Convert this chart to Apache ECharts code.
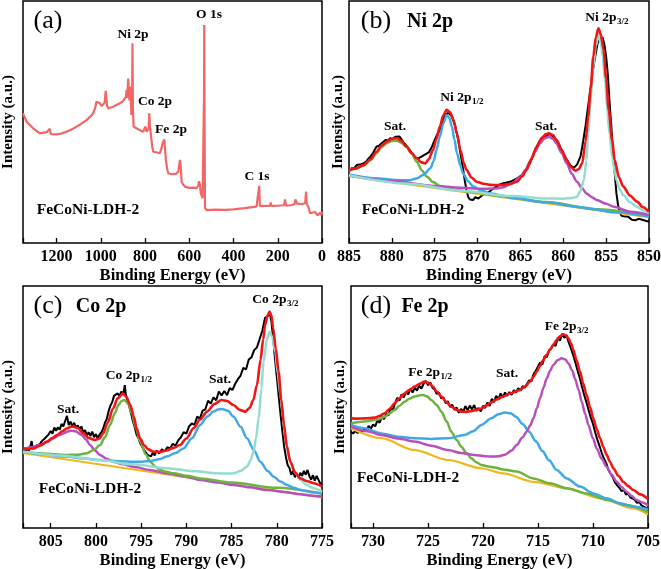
<!DOCTYPE html>
<html><head><meta charset="utf-8">
<script src="https://cdn.jsdelivr.net/npm/echarts@6/dist/echarts.min.js"></script>
<style>html,body{margin:0;padding:0;background:#fff}#c{width:661px;height:569px}</style>
</head><body><div id="c"></div>
<script>
// ---------- (a) survey ----------
const survey = [[1352,53.6],[1336,50.1],[1306,47.4],[1276,45.3],[1245,45.8],[1231,47.2],[1226,45.0],[1200,44.9],[1180,45.2],[1155,46.0],[1130,47.0],[1110,48.1],[1085,49.5],[1065,50.8],[1045,52.4],[1035,53.6],[1025,56.0],[1020,58.4],[1012,57.6],[1005,57.8],[997,56.6],[988,56.5],[983,58.0],[978,62.9],[972,57.0],[967,55.6],[955,56.0],[944,56.3],[930,57.0],[914,57.7],[900,58.6],[891,59.1],[886,60.5],[884,63.2],[881,60.0],[878,59.5],[876,68.0],[873,60.5],[870,59.0],[867,64.6],[865,60.0],[862,52.9],[859,55.0],[857,82.5],[855,56.0],[852,48.1],[839,47.4],[820,46.5],[809,46.0],[803,46.5],[798,48.1],[794,46.0],[790,45.3],[784,47.0],[781,53.6],[778,48.0],[774,45.0],[768,40.0],[763,37.7],[750,37.5],[733,37.1],[726,39.0],[721,41.2],[713,42.8],[709,38.0],[706,34.3],[700,30.5],[695,28.8],[680,28.4],[672,28.1],[660,28.6],[650,29.5],[645,32.5],[642,34.3],[638,31.0],[635,25.3],[628,24.2],[620,23.3],[600,22.8],[580,22.9],[567,22.6],[559,24.0],[556,25.5],[552,24.0],[548,20.5],[540,18.5],[536,17.8],[533.5,60.0],[532.5,90.1],[531,50.0],[529,14.5],[522,13.6],[480,13.8],[440,13.7],[400,13.9],[350,14.4],[296,15.0],[287,15.1],[284,23.6],[281,15.3],[260,15.4],[235,15.3],[232,16.7],[228,15.3],[200,15.4],[172,15.6],[167,18.0],[163,15.4],[140,15.6],[125,16.0],[120,18.0],[114,16.4],[90,16.0],[76,16.5],[72,21.2],[69,16.0],[62,15.0],[54,12.3],[45,13.0],[32,12.8],[24,12.9],[20,11.5],[16,10.9],[8,12.5],[4,11.5],[0,12.9]];

// ---------- (b) Ni 2p ----------
const niRaw = [[884.8,30.9],[884.6,31.4],[884.4,30.8],[884.1,32.2],[883.9,31.6],[883.6,32.6],[883.3,32.9],[883.0,33.6],[882.8,34.6],[882.5,35.7],[882.2,37.2],[882.0,38.5],[881.8,39.8],[881.5,40.2],[881.2,41.2],[881.0,41.9],[880.7,42.6],[880.4,42.4],[880.2,43.3],[879.9,43.0],[879.6,43.9],[879.4,43.6],[879.1,44.0],[878.9,43.2],[878.7,41.9],[878.5,41.0],[878.3,40.2],[878.1,39.4],[877.9,38.4],[877.7,37.6],[877.5,36.2],[877.3,35.0],[877.1,34.3],[876.9,35.0],[876.7,34.8],[876.5,35.8],[876.3,35.7],[876.1,36.6],[875.9,36.4],[875.7,37.4],[875.5,38.6],[875.3,40.0],[875.1,41.8],[874.8,44.2],[874.6,45.6],[874.4,46.7],[874.2,49.0],[874.0,51.0],[873.8,52.9],[873.6,53.4],[873.4,53.8],[873.2,53.4],[873.0,52.4],[872.8,50.2],[872.6,48.1],[872.4,45.0],[872.2,41.5],[872.0,37.1],[871.8,33.0],[871.6,28.5],[871.5,26.0],[871.3,22.0],[871.1,19.1],[870.9,18.0],[870.7,18.8],[870.5,17.8],[870.3,18.9],[870.1,19.5],[869.9,18.4],[869.7,18.9],[869.5,19.6],[869.3,19.1],[869.1,20.4],[868.9,20.2],[868.7,21.0],[868.5,21.2],[868.3,22.2],[868.1,22.5],[867.8,23.3],[867.6,23.6],[867.4,24.2],[867.2,24.0],[867.0,24.7],[866.8,24.5],[866.6,25.0],[866.4,24.8],[866.2,25.3],[866.0,25.6],[865.8,26.0],[865.6,26.2],[865.4,26.7],[865.2,27.0],[865.0,27.6],[864.8,28.0],[864.6,28.8],[864.4,29.8],[864.2,31.4],[863.9,32.9],[863.7,34.6],[863.5,36.5],[863.3,38.4],[863.1,39.8],[862.9,41.2],[862.7,42.5],[862.5,43.2],[862.3,43.9],[862.1,44.6],[861.9,44.5],[861.7,45.3],[861.5,45.0],[861.3,44.4],[861.1,43.6],[860.9,42.9],[860.7,42.0],[860.5,40.8],[860.3,39.2],[860.0,37.1],[859.8,35.8],[859.6,34.5],[859.4,33.4],[859.2,32.2],[859.0,31.4],[858.8,31.0],[858.6,31.5],[858.4,32.4],[858.2,34.0],[858.0,35.7],[857.8,39.5],[857.6,43.9],[857.4,48.5],[857.2,54.0],[857.0,59.1],[856.8,64.5],[856.6,70.0],[856.4,74.5],[856.2,78.5],[856.0,82.5],[855.8,84.6],[855.6,85.3],[855.4,84.8],[855.2,82.0],[855.0,77.0],[854.8,69.5],[854.6,58.0],[854.4,48.5],[854.2,38.0],[854.0,29.0],[853.8,20.5],[853.6,15.5],[853.4,12.5],[853.2,11.2],[853.0,10.4],[852.8,10.9],[852.6,10.3],[852.4,10.8],[852.2,10.0],[852.0,9.6],[851.8,10.2],[851.6,9.4],[851.4,9.5],[851.2,10.0],[851.0,9.2],[850.8,9.6],[850.6,8.8],[850.4,9.2],[850.2,8.6],[850.0,8.8]];
const niFit = [[885.0,30.0],[884.3,30.8],[883.3,32.2],[882.5,34.6],[881.8,37.7],[881.2,40.3],[880.6,41.9],[880.0,43.0],[879.4,43.3],[878.9,42.2],[878.3,39.8],[877.7,37.2],[877.1,35.0],[876.6,33.4],[876.1,32.9],[875.7,34.6],[875.2,38.4],[874.8,43.0],[874.4,48.1],[874.0,52.8],[873.6,55.0],[873.2,54.0],[872.8,50.8],[872.4,45.0],[872.0,38.4],[871.6,33.0],[871.3,30.2],[870.7,27.0],[870.1,25.3],[869.3,24.5],[868.5,24.0],[867.8,23.9],[867.0,24.0],[866.2,24.5],[865.4,25.3],[864.8,27.5],[864.3,30.2],[863.7,34.8],[863.1,39.8],[862.5,43.5],[862.0,45.0],[861.7,45.3],[861.2,44.6],[860.8,42.6],[860.2,38.5],[859.6,34.3],[859.1,31.3],[858.6,29.9],[858.2,30.5],[857.8,32.9],[857.4,42.0],[857.1,52.2],[856.8,64.0],[856.5,77.0],[856.2,85.0],[855.9,88.7],[855.6,86.0],[855.3,79.8],[855.0,68.0],[854.7,55.0],[854.3,42.5],[854.0,34.3],[853.5,27.0],[853.0,23.3],[852.2,19.5],[851.4,17.1],[850.7,14.8],[850.0,12.9]];
const niBase = [[885,27.6],[850,10.6]];
const niSat1 = [[885,29.8],[884.1,30.8],[883.3,32.0],[882.5,34.2],[881.8,37.1],[881.2,39.6],[880.6,41.2],[880.0,42.2],[879.4,42.3],[878.9,41.4],[878.3,39.8],[877.7,37.0],[877.1,33.6],[876.5,30.0],[875.9,27.4],[875.2,25.2],[874.4,23.6],[873.4,22.5],[872.4,21.8],[870.5,21.0],[867,19.3],[862,16.9],[856,13.9],[850,11.2]];
const niP12 = [[885,28.3],[882,26.8],[879.4,26.0],[878.0,25.9],[877.1,26.7],[876.3,28.2],[875.5,30.9],[875.1,34.0],[874.8,38.4],[874.4,44.0],[874.0,49.4],[873.6,52.9],[873.3,51.8],[873.0,48.1],[872.7,42.8],[872.4,37.1],[872.0,32.0],[871.7,28.8],[871.1,25.5],[870.5,23.3],[869.5,21.6],[868.5,20.5],[865.8,18.5],[862,16.8],[858,14.8],[854,12.7],[850,10.9]];
const niSat2 = [[885,28.0],[880,25.6],[875,23.6],[872,22.8],[869.7,22.4],[868.0,22.5],[867.0,23.0],[866.0,24.6],[865.0,27.4],[864.4,30.2],[863.9,33.6],[863.3,37.8],[862.7,41.2],[862.2,43.2],[861.7,43.9],[861.2,43.0],[860.8,41.2],[860.2,37.2],[859.6,32.9],[859.0,28.6],[858.4,25.3],[857.8,22.6],[857.3,20.5],[856.6,18.8],[856.1,17.8],[855.0,16.2],[854.1,15.0],[852.2,12.9],[850,11.6]];
const niP32 = [[885,28.0],[878,24.5],[872,21.6],[866,19.4],[862,18.4],[860,18.3],[859.0,18.6],[858.4,19.1],[858.0,21.5],[857.6,26.0],[857.3,34.0],[857.1,45.3],[856.8,60.0],[856.5,72.9],[856.2,81.5],[855.9,85.9],[855.6,82.5],[855.4,77.0],[855.1,66.0],[854.9,56.3],[854.6,45.0],[854.3,35.7],[854.0,29.5],[853.8,26.0],[853.4,22.0],[853.0,19.8],[852.2,16.8],[851.4,15.0],[850.7,13.5],[850,12.3]];

// ---------- (c) Co 2p ----------
const coRaw = [[808.0,32.9],[807.8,31.5],[807.6,33.0],[807.4,32.0],[807.2,34.5],[807.1,35.9],[807.0,33.0],[806.8,32.5],[806.6,34.0],[806.4,33.2],[806.2,34.6],[806.0,35.8],[805.8,35.0],[805.6,37.2],[805.4,36.4],[805.2,38.8],[805.0,40.1],[804.8,39.0],[804.6,41.5],[804.4,40.2],[804.2,41.6],[804.0,40.6],[803.8,43.0],[803.6,42.0],[803.4,44.2],[803.2,46.3],[803.0,42.5],[802.8,44.0],[802.6,42.0],[802.4,43.5],[802.2,41.5],[802.0,42.4],[801.8,40.6],[801.6,42.0],[801.4,39.5],[801.2,40.5],[801.0,38.2],[800.8,39.6],[800.6,38.0],[800.4,39.8],[800.2,37.5],[800.0,38.8],[799.8,37.0],[799.6,38.6],[799.4,39.5],[799.2,41.0],[799.0,43.5],[798.8,45.0],[798.6,48.2],[798.4,50.5],[798.2,52.0],[798.0,54.6],[797.8,53.8],[797.6,55.6],[797.4,54.5],[797.2,56.4],[797.0,55.0],[796.8,59.0],[796.7,55.5],[796.5,52.5],[796.3,50.0],[796.1,47.2],[795.9,44.0],[795.7,41.6],[795.5,38.5],[795.3,37.2],[795.1,35.0],[794.9,34.6],[794.7,32.4],[794.5,31.8],[794.3,30.2],[794.1,31.0],[793.9,29.6],[793.7,31.2],[793.5,30.0],[793.3,32.0],[793.0,30.8],[792.7,32.5],[792.4,31.6],[792.1,33.4],[791.8,32.8],[791.5,34.8],[791.2,34.0],[790.9,36.2],[790.6,37.5],[790.3,39.6],[790.0,39.0],[789.7,42.0],[789.4,43.2],[789.1,42.6],[788.8,46.0],[788.5,45.2],[788.2,48.5],[787.9,49.0],[787.6,52.6],[787.3,51.4],[787.0,54.0],[786.7,52.8],[786.4,56.4],[786.1,54.8],[785.8,56.6],[785.5,54.9],[785.2,57.8],[784.9,57.0],[784.6,59.6],[784.3,61.5],[784.0,63.0],[783.7,66.2],[783.4,65.5],[783.1,69.6],[782.8,70.5],[782.5,73.5],[782.2,74.6],[781.9,78.0],[781.6,81.5],[781.3,86.8],[781.0,87.5],[780.8,89.0],[780.6,85.5],[780.4,78.5],[780.2,70.0],[780.0,62.5],[779.8,55.0],[779.6,47.5],[779.4,40.5],[779.2,34.0],[779.0,29.5],[778.8,26.0],[778.6,24.8],[778.4,22.0],[778.2,23.6],[778.0,21.0],[777.8,22.5],[777.6,20.6],[777.4,22.8],[777.2,21.5],[777.0,23.6],[776.8,22.0],[776.6,24.0],[776.4,21.5],[776.2,20.0],[776.0,21.8],[775.8,19.6],[775.6,21.5],[775.4,20.0],[775.2,18.5],[775.0,18.0]];
const coFit = [[808.06,32.9],[807.5,32.6],[806.9,32.9],[806.2,34.0],[805.4,35.7],[804.8,37.2],[804.3,38.4],[803.7,40.0],[803.2,41.2],[802.8,41.8],[802.5,41.9],[802.0,41.3],[801.4,39.1],[800.8,37.2],[800.1,36.4],[799.6,37.0],[799.2,39.1],[798.7,43.5],[798.1,49.4],[797.6,53.6],[797.0,55.6],[796.6,54.0],[796.2,50.8],[795.8,46.0],[795.5,41.2],[795.1,37.0],[794.7,34.3],[794.2,32.5],[793.6,31.5],[792.9,31.5],[792.2,32.0],[791.5,33.0],[790.7,34.3],[790.0,37.0],[789.2,41.2],[788.5,44.8],[787.7,48.1],[786.9,51.2],[786.1,52.9],[785.5,52.5],[784.8,50.8],[784.1,48.8],[783.5,48.1],[783.0,49.6],[782.6,52.9],[782.2,59.0],[781.8,69.4],[781.5,78.0],[781.3,83.9],[781.0,88.0],[780.8,89.4],[780.6,88.0],[780.4,82.5],[780.1,74.0],[779.8,64.6],[779.5,53.0],[779.2,42.6],[778.9,34.0],[778.5,27.4],[778.0,23.0],[777.4,20.5],[776.6,19.3],[775.9,18.5],[775.0,17.1]];
const coBase = [[808.06,31.0],[775,12.6]];
const coSat1 = [[808.06,32.6],[807.0,33.5],[806.18,34.3],[805.4,35.6],[804.70,37.1],[804.1,38.3],[803.60,39.1],[803.1,39.9],[802.68,40.2],[802.2,39.9],[801.57,38.4],[801.1,36.6],[800.65,34.3],[800.1,32.0],[799.54,30.2],[798.8,28.6],[798.06,27.4],[797.0,26.3],[795.85,25.3],[794,24.0],[792.16,22.6],[790,21.2],[788.47,19.8],[786.5,18.8],[784.78,17.8],[783,16.8],[781.09,15.7],[779,14.8],[777.40,13.9],[776,13.3],[775,12.9]];
const coP12 = [[808.06,31.5],[806,30.8],[803.23,30.2],[802,30.3],[801.01,30.9],[800.2,32.3],[799.54,34.3],[799.0,37.5],[798.43,42.6],[797.9,47.5],[797.51,50.8],[797.2,52.4],[796.85,52.9],[796.4,51.2],[796.03,47.4],[795.6,41.5],[795.11,35.7],[794.5,30.5],[794.00,27.4],[793.4,25.3],[792.90,24.0],[792.2,23.2],[791.42,22.6],[790,21.6],[788.47,20.5],[785,18.8],[780,16.6],[775,14.2]];
const coSat2 = [[808.06,31.5],[806,30.5],[803.23,29.5],[801.5,28.8],[799.54,28.1],[797.5,27.6],[795.85,27.4],[794.9,27.4],[794.00,27.7],[793.0,28.4],[792.16,29.5],[791.2,31.0],[790.31,32.9],[789.4,37.0],[788.47,42.6],[787.7,46.0],[786.99,48.1],[786.5,49.0],[786.07,49.2],[785.4,48.4],[784.78,46.0],[784.0,41.8],[783.30,37.1],[782.5,32.0],[781.83,27.4],[781.0,23.6],[780.35,21.2],[779.6,19.2],[778.87,17.8],[778.1,16.6],[777.40,15.7],[776.2,14.8],[775,14.3]];
const coP32 = [[808.06,31.5],[804,30.0],[799.54,28.1],[796,26.3],[792.16,24.7],[789,23.4],[786.62,22.6],[785.5,22.5],[784.78,22.6],[784.0,23.6],[783.30,25.3],[782.9,28.0],[782.56,31.5],[782.3,37.0],[782.01,45.3],[781.7,57.5],[781.46,68.7],[781.1,77.8],[780.79,81.1],[780.5,79.0],[780.17,72.9],[779.9,64.0],[779.61,55.0],[779.3,45.5],[779.06,37.1],[778.7,30.0],[778.32,26.0],[777.9,22.5],[777.40,19.8],[776.7,17.8],[775.92,16.4],[775,15.0]];

// ---------- (d) Fe 2p ----------
const feRaw = [[732.0,39.8],[731.8,39.0],[731.6,40.2],[731.4,39.2],[731.2,40.5],[731.0,39.6],[730.8,41.0],[730.6,40.0],[730.4,42.2],[730.2,41.0],[730.0,42.8],[729.8,42.0],[729.6,44.5],[729.4,43.5],[729.2,45.8],[729.0,45.0],[728.8,47.2],[728.6,46.5],[728.4,49.8],[728.2,48.6],[728.0,51.5],[727.8,53.8],[727.6,52.6],[727.4,55.2],[727.2,54.0],[727.0,56.2],[726.8,55.2],[726.6,57.6],[726.4,56.0],[726.2,58.0],[726.0,56.8],[725.8,58.8],[725.6,57.6],[725.4,59.6],[725.2,60.8],[725.0,59.0],[724.8,60.2],[724.6,58.0],[724.4,57.2],[724.2,55.4],[724.0,56.0],[723.8,53.6],[723.6,54.0],[723.4,51.6],[723.2,52.4],[723.0,50.0],[722.8,51.0],[722.6,48.8],[722.4,49.8],[722.2,47.6],[722.0,49.2],[721.8,48.0],[721.6,50.4],[721.4,48.6],[721.2,50.6],[721.0,49.0],[720.8,50.8],[720.6,48.4],[720.4,49.6],[720.2,48.2],[720.0,50.5],[719.8,49.6],[719.6,51.8],[719.4,50.4],[719.2,53.4],[719.0,52.0],[718.8,54.6],[718.6,53.2],[718.4,55.6],[718.2,54.0],[718.0,56.0],[717.8,54.6],[717.6,56.2],[717.4,55.0],[717.2,57.0],[717.0,56.0],[716.8,57.8],[716.6,56.8],[716.4,58.6],[716.2,58.0],[716.0,59.6],[715.8,61.0],[715.6,60.6],[715.4,63.6],[715.2,65.0],[715.0,66.8],[714.8,68.4],[714.6,67.6],[714.4,71.0],[714.2,70.6],[714.0,73.4],[713.8,74.2],[713.6,76.0],[713.4,75.2],[713.2,78.6],[713.0,77.4],[712.8,80.2],[712.6,78.6],[712.4,79.6],[712.2,76.6],[712.0,74.2],[711.8,71.4],[711.6,68.4],[711.4,65.0],[711.2,62.0],[711.0,58.4],[710.8,55.0],[710.6,52.0],[710.4,48.8],[710.2,45.6],[710.0,43.0],[709.8,39.6],[709.6,36.4],[709.4,33.8],[709.2,31.0],[709.0,28.6],[708.8,26.8],[708.6,24.0],[708.4,22.4],[708.2,21.0],[708.0,18.8],[707.8,17.6],[707.6,16.6],[707.4,15.2],[707.2,15.8],[707.0,13.8],[706.8,14.2],[706.6,12.6],[706.4,12.2],[706.2,11.6],[706.0,10.4],[705.8,10.8],[705.6,9.4],[705.4,8.8],[705.2,8.4],[705.0,8.0]];
const feFit = [[732.0,45.3],[731.4,45.2],[730.76,45.3],[730.3,45.4],[729.85,45.6],[729.4,46.3],[728.94,47.4],[728.5,49.2],[728.03,51.5],[727.6,53.6],[727.12,55.6],[726.7,57.0],[726.21,58.4],[725.75,59.6],[725.30,60.5],[724.9,59.8],[724.55,58.4],[724.2,56.4],[723.79,54.3],[723.3,52.0],[722.88,50.1],[722.4,48.8],[721.97,48.1],[721.5,48.0],[721.06,48.3],[720.6,48.8],[720.15,49.4],[719.7,50.6],[719.24,51.9],[718.7,53.2],[718.18,54.3],[717.55,55.6],[716.64,57.0],[716.2,58.4],[715.73,60.5],[715.42,62.4],[715.12,64.6],[714.82,67.0],[714.52,69.4],[714.21,71.6],[713.91,73.6],[713.61,75.7],[713.30,77.7],[713.0,79.2],[712.70,80.0],[712.45,79.6],[712.24,78.4],[712.0,76.3],[711.79,73.6],[711.5,69.4],[711.18,64.6],[710.9,59.8],[710.58,55.0],[710.27,50.0],[709.97,45.3],[709.67,41.0],[709.36,37.1],[709.06,33.5],[708.76,30.2],[708.45,27.3],[708.15,24.7],[707.7,21.6],[707.24,19.1],[706.8,17.3],[706.33,15.7],[705.7,13.9],[705.0,12.0]];
const feBase = [[732.0,41.2],[729.24,37.1],[726.21,32.2],[723.18,28.1],[720.15,24.7],[718.18,22.6],[715.42,19.1],[712.39,16.4],[709.36,12.3],[706.33,8.1],[705.0,5.6]];
const feP12 = [[732.0,43.3],[730.76,44.0],[729.85,44.6],[729.4,45.1],[728.94,46.0],[728.5,47.3],[728.03,48.8],[727.6,50.5],[727.12,52.2],[726.7,53.4],[726.21,54.3],[725.8,54.8],[725.45,55.0],[725.1,54.4],[724.70,52.9],[724.2,50.8],[723.79,48.1],[723.3,44.0],[722.88,39.8],[722.4,36.4],[721.97,33.6],[721.5,31.0],[721.06,28.8],[720.6,27.2],[720.15,26.0],[719.5,25.4],[718.94,25.0],[718.18,24.2],[716.94,23.3],[715.42,20.5],[713.91,18.5],[712.39,16.4],[710.58,14.3],[708.76,11.6],[706.94,9.5],[705.0,6.6]];
const feSat = [[732.0,42.6],[730.76,41.2],[729.24,39.1],[727.73,37.7],[726.21,37.1],[724.70,36.8],[723.18,37.1],[721.67,38.4],[720.9,40.0],[720.15,42.6],[719.24,45.3],[718.6,47.0],[718.0,47.7],[717.5,47.4],[717.0,46.0],[716.4,43.0],[715.8,39.8],[715.2,35.8],[714.6,31.8],[714.0,28.0],[713.3,24.0],[712.39,20.5],[711.18,17.1],[709.97,14.3],[708.76,12.3],[707.55,10.2],[706.33,8.8],[705.0,7.8]];
const feP32 = [[732.0,41.9],[730.5,40.0],[729.24,38.4],[727.7,37.0],[726.21,35.7],[724.7,34.0],[723.18,32.2],[722.0,31.0],[720.76,30.2],[719.8,29.7],[719.24,29.5],[718.6,29.6],[718.0,30.3],[717.4,32.0],[716.94,34.3],[716.4,37.5],[716.03,39.8],[715.7,42.5],[715.42,45.3],[715.1,49.5],[714.82,53.6],[714.5,58.0],[714.21,61.8],[713.9,65.0],[713.61,67.4],[713.2,69.4],[712.85,70.1],[712.5,69.6],[712.24,68.0],[711.9,65.2],[711.64,61.8],[711.3,57.0],[711.03,52.2],[710.7,47.0],[710.42,42.6],[710.0,37.0],[709.67,32.9],[709.2,28.6],[708.76,25.3],[708.3,22.0],[707.85,19.1],[707.4,16.9],[706.94,15.0],[706.5,13.2],[706.03,11.6],[705.5,10.5],[705.0,9.3]];

// ---------- axes ----------
const xMin = [0, 850, 775, 705];
const xMax = [1352, 885, 808.06, 732];
const xStep = [200, 5, 5, 5];
const sampleName = 'FeCoNi-LDH-2';

const FONT = '"Liberation Serif","Times New Roman",serif';
const C = {red:'#f41414', black:'#000000', green:'#6cb33f', blue:'#3fa9e6', purple:'#b84fba', teal:'#93dccf', yellow:'#f2b71c', survey:'#f46666'};

const grids = [
  {left:23, top:1, width:299, height:242},
  {left:349, top:1, width:300, height:242},
  {left:23, top:286, width:299, height:242},
  {left:351, top:286, width:297, height:242}
].map(g => Object.assign(g, {show:true, borderColor:'#000', borderWidth:1.5, containLabel:false, outerBoundsMode:'none'}));

const xAxes = grids.map((g, i) => ({
  type:'value', gridIndex:i, min:xMin[i], max:xMax[i], interval:xStep[i], inverse:true,
  name:'Binding Energy (eV)', nameLocation:'middle', nameGap:24,
  nameTextStyle:{fontFamily:FONT, fontWeight:'bold', fontSize:16.5, color:'#000'},
  axisLine:{show:false}, splitLine:{show:false},
  axisTick:{show:true, inside:true, length:5, lineStyle:{color:'#000', width:1.3}},
  axisLabel:{margin:6, fontFamily:FONT, fontWeight:'bold', fontSize:16, color:'#000',
    formatter: v => (Math.abs(v / xStep[i] - Math.round(v / xStep[i])) < 1e-6 ? String(Math.round(v)) : '')}
}));
const yAxes = grids.map((g, i) => ({
  type:'value', gridIndex:i, min:0, max:100,
  name:'Intensity (a.u.)', nameLocation:'middle', nameRotate:90, nameGap:(i % 2 === 0 ? 7 : 3),
  nameTextStyle:{fontFamily:FONT, fontWeight:'bold', fontSize:15, color:'#000'},
  axisLine:{show:false}, axisTick:{show:false}, axisLabel:{show:false}, splitLine:{show:false}
}));

function line(gi, data, color, width, smooth, z) {
  return {type:'line', xAxisIndex:gi, yAxisIndex:gi, data:data, symbol:'none', smooth:smooth, smoothMonotone: smooth ? 'x' : undefined,
    lineStyle:{color:color, width:width}, z:z, silent:true, animation:false, clip:true};
}
const series = [
  line(0, survey, C.survey, 2.2, false, 2),
  line(1, niRaw, C.black, 2, false, 2),
  line(1, niBase, C.yellow, 2, false, 3),
  line(1, niSat1, C.green, 2.5, 0.3, 4),
  line(1, niP12, C.blue, 2.5, 0.3, 4),
  line(1, niSat2, C.purple, 2.5, 0.3, 4),
  line(1, niP32, C.teal, 2.5, 0.3, 4),
  line(1, niFit, C.red, 2.6, 0.3, 5),
  line(2, coRaw, C.black, 2, false, 2),
  line(2, coBase, C.yellow, 2, false, 3),
  line(2, coSat1, C.purple, 2.5, 0.3, 4),
  line(2, coP12, C.green, 2.5, 0.3, 4),
  line(2, coSat2, C.blue, 2.5, 0.3, 4),
  line(2, coP32, C.teal, 2.5, 0.3, 4),
  line(2, coFit, C.red, 2.6, 0.3, 5),
  line(3, feRaw, C.black, 2, false, 2),
  line(3, feBase, C.yellow, 2.2, 0.3, 3),
  line(3, feP12, C.green, 2.5, 0.3, 4),
  line(3, feSat, C.blue, 2.5, 0.3, 4),
  line(3, feP32, C.purple, 2.5, 0.3, 4),
  line(3, feFit, C.red, 2.6, 0.3, 5)
];

// ---------- text ----------
function txt(x, y, s, size, bold, align) {
  return {type:'text', x:x, y:y, z:100, silent:true,
    style:{text:s, fill:'#000', font:(bold ? 'bold ' : '') + size + 'px ' + FONT, textAlign:align || 'center', textVerticalAlign:'middle', align:align || 'center', verticalAlign:'middle'}};
}
function sub(xr, y, main, s) {
  return [txt(xr, y, main, 13.5, true, 'right'), txt(xr + 0.5, y + 4, s, 9, true, 'left')];
}
const graphics = [
  txt(48, 21, '(a)', 26, false), 
  txt(133, 35, 'Ni 2p', 13.5, true), txt(209, 15, 'O 1s', 13.5, true), txt(155, 102, 'Co 2p', 13.5, true),
  txt(171, 130, 'Fe 2p', 13.5, true), txt(257, 177, 'C 1s', 13.5, true), txt(88, 210, sampleName, 15.5, true),

  txt(376, 21, '(b)', 26, false), txt(430, 22, 'Ni 2p', 20, true),
  txt(395, 127, 'Sat.', 13.5, true), txt(546, 127, 'Sat.', 13.5, true),
  ...sub(471.5, 98, 'Ni 2p', '1/2'), ...sub(616.5, 18, 'Ni 2p', '3/2'),
  txt(413, 210, sampleName, 15.5, true),

  txt(48, 306, '(c)', 26, false), txt(101, 307, 'Co 2p', 20, true),
  txt(68, 410, 'Sat.', 13.5, true), txt(220, 380, 'Sat.', 13.5, true),
  ...sub(140, 376, 'Co 2p', '1/2'), ...sub(286.5, 300, 'Co 2p', '3/2'),
  txt(90, 489, sampleName, 15.5, true),

  txt(376, 306, '(d)', 26, false), txt(425, 307, 'Fe 2p', 20, true),
  txt(507, 374, 'Sat.', 13.5, true),
  ...sub(440, 373, 'Fe 2p', '1/2'), ...sub(576.5, 327, 'Fe 2p', '3/2'),
  txt(408, 478, sampleName, 15.5, true)
];

const chart = echarts.init(document.getElementById('c'), null, {renderer:'canvas'});
chart.setOption({
  animation:false, backgroundColor:'#fff',
  grid:grids, xAxis:xAxes, yAxis:yAxes, series:series, graphic:{elements:graphics}
});
</script>
</body></html>
